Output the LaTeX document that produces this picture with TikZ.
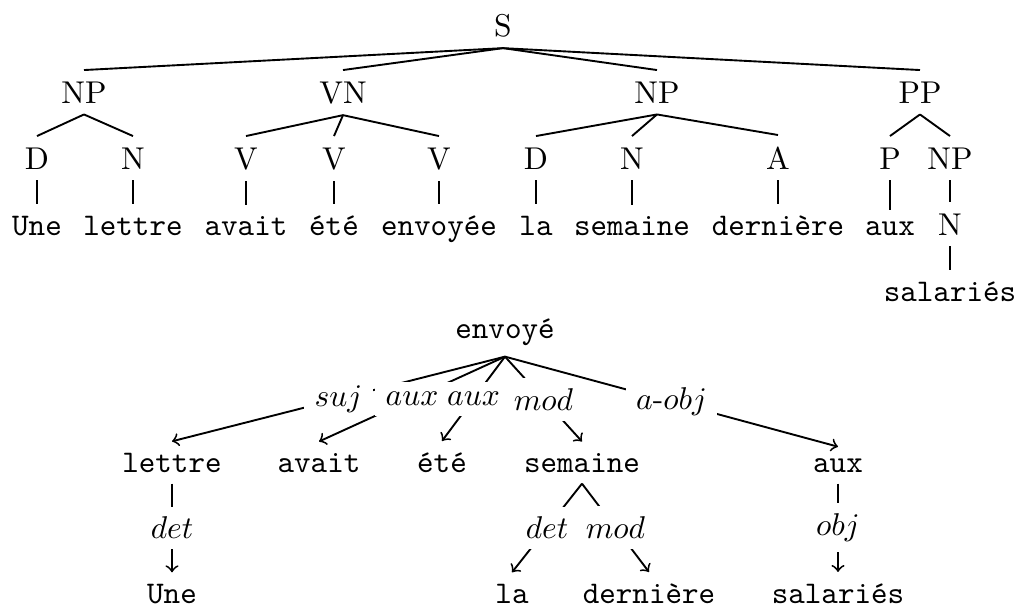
\documentclass[tikz,border=0pt]{standalone}
\usepackage{fontspec}
\begin{document}
\begin{tikzpicture}[x=0.31746pt,y=-0.31746pt, line width=0.6pt,
  cat/.style={anchor=base, font=\rmfamily},
  word/.style={anchor=base, font=\ttfamily},
  lab/.style={midway, fill=white},
  dep/.style={->}]
\useasboundingbox (0,0) rectangle (1015,607);
% ---- constituency tree ----
\node[cat] (S) at (503,36) {S};
\node[cat] (NP1) at (84,103) {NP};
\node[cat] (VN) at (343,103) {VN};
\node[cat] (NP2) at (657,103) {NP};
\node[cat] (PP) at (920,103) {PP};
\node[cat] (D1) at (37,169) {D};
\node[cat] (N1) at (133,169) {N};
\node[cat] (V1) at (246,169) {V};
\node[cat] (V2) at (334,169) {V};
\node[cat] (V3) at (439,169) {V};
\node[cat] (D2) at (536,169) {D};
\node[cat] (N2) at (632,169) {N};
\node[cat] (A2) at (778,169) {A};
\node[cat] (P3) at (890,169) {P};
\node[cat] (NP3) at (950,169) {NP};
\node[word] (t1) at (37,235) {Une};
\node[word] (t2) at (133,235) {lettre};
\node[word] (t3) at (246,235) {avait};
\node[word] (t4) at (334,235) {été};
\node[word] (t5) at (439,235) {envoyée};
\node[word] (t6) at (536,235) {la};
\node[word] (t7) at (632,235) {semaine};
\node[word] (t8) at (778,235) {dernière};
\node[word] (t9) at (890,235) {aux};
\node[cat] (N3) at (950,235) {N};
\node[word] (t10) at (950,301) {salariés};
\foreach \a/\b in {S/NP1,S/VN,S/NP2,S/PP,NP1/D1,NP1/N1,VN/V1,VN/V2,VN/V3,
  NP2/D2,NP2/N2,NP2/A2,PP/P3,PP/NP3,D1/t1,N1/t2,V1/t3,V2/t4,V3/t5,D2/t6,
  N2/t7,A2/t8,P3/t9,NP3/N3,N3/t10}
  \draw (\a.south) -- (\b.north);
% ---- dependency tree ----
\node[word] (env) at (505,338) {envoyé};
\node[word] (lettre) at (172,472) {lettre};
\node[word] (avait) at (319,472) {avait};
\node[word] (ete) at (442,472) {été};
\node[word] (semaine) at (582,472) {semaine};
\node[word] (aux) at (838,472) {aux};
\node[word] (une) at (172,603) {Une};
\node[word] (la) at (512,603) {la};
\node[word] (derniere) at (649,603) {dernière};
\node[word] (salaries) at (838,603) {salariés};
\draw[dep] (env.south) -- node[lab]{$suj$} (lettre.north);
\draw[dep] (env.south) -- node[lab]{$aux$} (avait.north);
\draw[dep] (env.south) -- node[lab]{$aux$} (ete.north);
\draw[dep] (env.south) -- node[lab]{$mod$} (semaine.north);
\draw[dep] (env.south) -- node[lab]{$a$-$obj$} (aux.north);
\draw[dep] (lettre.south) -- node[lab]{$det$} (une.north);
\draw[dep] (semaine.south) -- node[lab]{$det$} (la.north);
\draw[dep] (semaine.south) -- node[lab]{$mod$} (derniere.north);
\draw[dep] (aux.south) -- node[lab]{$obj$} (salaries.north);
\end{tikzpicture}
\end{document}
